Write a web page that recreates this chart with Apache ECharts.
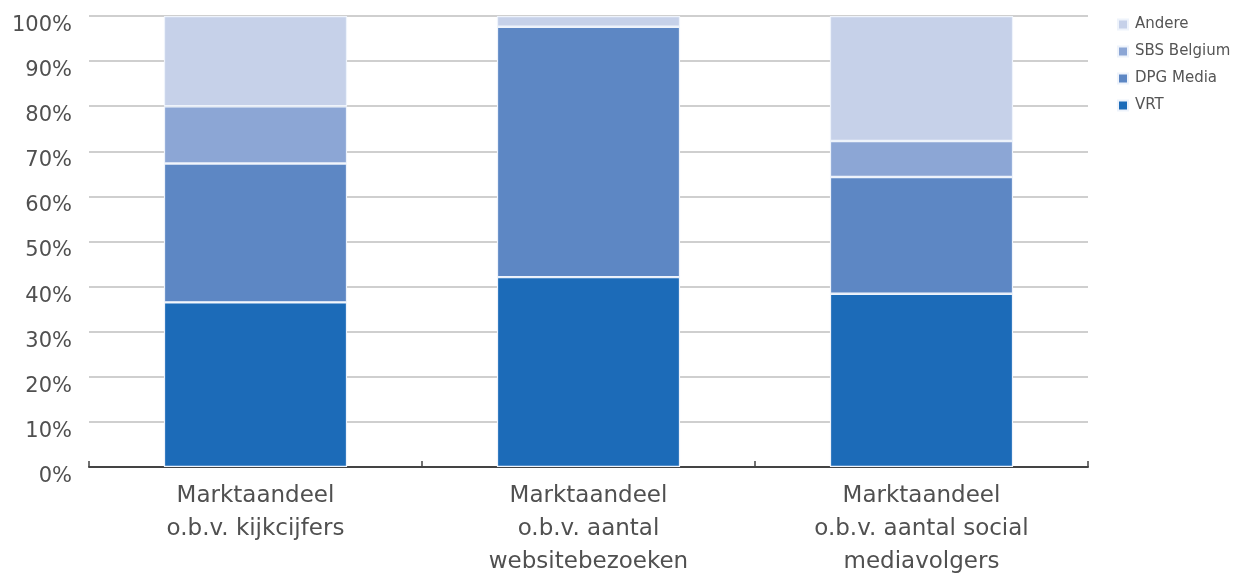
<!DOCTYPE html>
<html>
<head>
<meta charset="utf-8">
<script src="https://cdn.jsdelivr.net/npm/echarts@6/dist/echarts.min.js"></script>
<style>
  html, body { margin: 0; padding: 0; background: #ffffff; }
  #chart { width: 1243px; height: 585px; }
</style>
</head>
<body>
<div id="chart"></div>
<script>
// Market share per channel (percent of total)
const categories = [
  'Marktaandeel\no.b.v. kijkcijfers',
  'Marktaandeel\no.b.v. aantal\nwebsitebezoeken',
  'Marktaandeel\no.b.v. aantal social\nmediavolgers'
];
const vrt = [36.5, 42.1, 38.4];
const dpgMedia = [30.8, 55.5, 25.9];
const sbsBelgium = [12.7, 0, 8.0];
const andere = [20.0, 2.4, 27.7];

const yTicks = [0, 10, 20, 30, 40, 50, 60, 70, 80, 90, 100];

const seriesDefs = [
  { name: 'VRT', data: vrt, color: '#1c6bb8' },
  { name: 'DPG Media', data: dpgMedia, color: '#5d87c4' },
  { name: 'SBS Belgium', data: sbsBelgium, color: '#8ca6d5' },
  { name: 'Andere', data: andere, color: '#c6d1e9' }
];

const FONT = '"DejaVu Sans", Verdana, sans-serif';

const chart = echarts.init(document.getElementById('chart'), null, { renderer: 'canvas' });

chart.setOption({
  animation: false,
  backgroundColor: '#ffffff',
  textStyle: { fontFamily: FONT },
  grid: { left: 89, right: 155, top: 16, bottom: 118, containLabel: false },
  legend: {
    orient: 'vertical',
    left: 1117,
    top: 17,
    padding: 0,
    itemWidth: 10,
    itemHeight: 10,
    itemGap: 12,
    icon: 'rect',
    data: ['Andere', 'SBS Belgium', 'DPG Media', 'VRT'],
    textStyle: { color: '#555555', fontSize: 15, lineHeight: 14, fontFamily: FONT, padding: [0, 0, 0, 2] }
  },
  xAxis: {
    type: 'category',
    data: categories,
    boundaryGap: true,
    axisLine: { show: true, lineStyle: { color: '#444444', width: 2 } },
    axisTick: { show: true, inside: true, length: 6, lineStyle: { color: '#444444', width: 1.5 } },
    axisLabel: {
      color: '#505050',
      fontSize: 23,
      lineHeight: 33,
      margin: 13,
      align: 'center',
      fontFamily: FONT
    }
  },
  yAxis: {
    type: 'value',
    min: 0,
    max: 100,
    interval: 10,
    axisLine: { show: false },
    axisTick: { show: false },
    splitLine: { show: true, lineStyle: { color: '#cfcfcf', width: 2 } },
    axisLabel: {
      color: '#505050',
      fontSize: 21,
      lineHeight: 19,
      margin: 17,
      verticalAlign: 'top',
      fontFamily: FONT,
      formatter: function (v) { return yTicks.indexOf(v) >= 0 ? v + '%' : ''; }
    }
  },
  series: seriesDefs.map(function (s) {
    return {
      name: s.name,
      type: 'bar',
      stack: 'total',
      barWidth: '55%',
      data: s.data,
      itemStyle: { color: s.color, borderColor: '#eef3fb', borderWidth: 1.2 },
      emphasis: { disabled: true }
    };
  })
});
</script>
</body>
</html>
